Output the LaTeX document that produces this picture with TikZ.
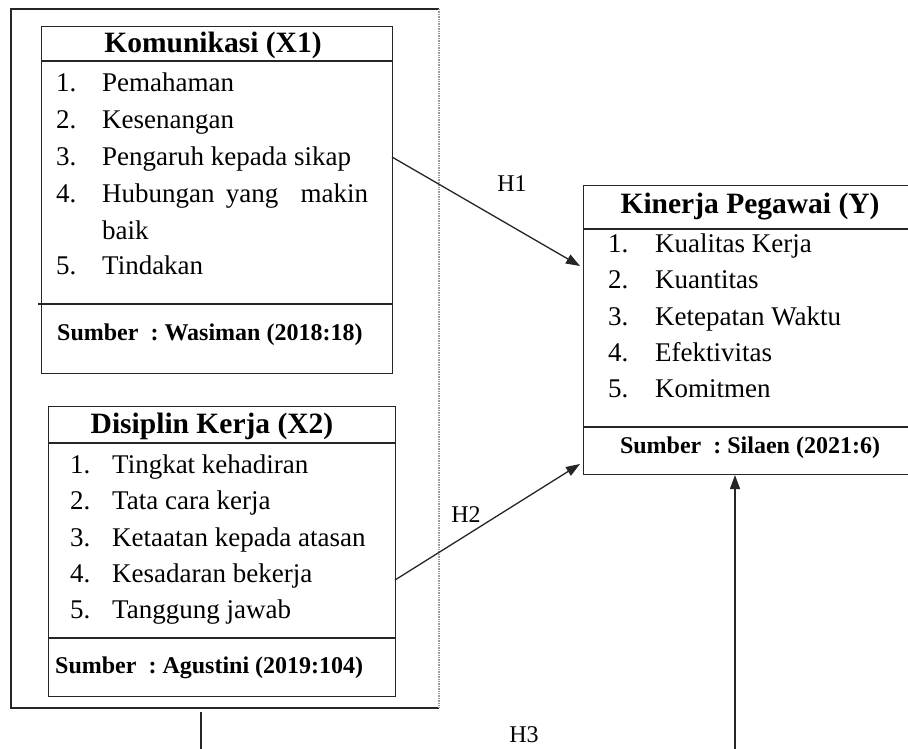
\documentclass[tikz,border=0pt]{standalone}
\usepackage{fontspec}
\setmainfont{Liberation Serif}
\usetikzlibrary{arrows.meta}
\begin{document}
\begin{tikzpicture}[x=1pt,y=-1pt,
  frame/.style={draw=black!85,line width=1.4pt},
  item/.style={anchor=base west,inner sep=0pt,font=\fontsize{27}{30}\selectfont,yshift=-8pt},
  ttl/.style={anchor=center,inner sep=0pt,font=\fontsize{29.5}{32}\selectfont\bfseries},
  src/.style={inner sep=0pt,font=\fontsize{24}{27}\selectfont\bfseries},
  hlab/.style={inner sep=0pt,font=\fontsize{24}{27}\selectfont},
  conn/.style={draw=black!85,line width=1.3pt},
  arr/.style={conn,-{Triangle[length=14pt,width=10pt]}}]
\useasboundingbox (0,0) rectangle (908,749);
\fill[white] (0,0) rectangle (908,749);
% outer frame
\draw[frame] (439,9) -- (11,9) -- (11,708) -- (439,708);
\draw[black!40,line width=1.4pt,densely dotted] (439,9) -- (439,708);
% X1 box
\node[frame,minimum width=351pt,minimum height=347pt,inner sep=0pt,anchor=north west] (x1) at (41,26) {};
\draw[frame] (41,61) -- (392,61);
\draw[frame] (38,304) -- (392,304);
\node[ttl] (x1t) at (213,45) {Komunikasi (X1)};
\node[item] (x1n1) at (56,84) {1.};  \node[item] (x1i1) at (102,84) {Pemahaman};
\node[item] (x1n2) at (56,121) {2.}; \node[item] (x1i2) at (102,121) {Kesenangan};
\node[item] (x1n3) at (56,158) {3.}; \node[item] (x1i3) at (102,158) {Pengaruh kepada sikap};
\node[item] (x1n4) at (56,194) {4.}; \node[item] (x1i4) at (102,194) {\makebox[266pt][s]{Hubungan yang\ \ makin}};
\node[item] (x1i4b) at (102,231) {baik};
\node[item] (x1n5) at (56,266) {5.}; \node[item] (x1i5) at (102,266) {Tindakan};
\node[src,anchor=west] (x1s) at (57,335) {Sumber\ \ :\ Wasiman (2018:18)};
% X2 box
\node[frame,minimum width=347pt,minimum height=290pt,inner sep=0pt,anchor=north west] (x2) at (48,406) {};
\draw[frame] (48,443) -- (395,443);
\draw[frame] (48,638) -- (395,638);
\node[ttl] (x2t) at (212,426) {Disiplin Kerja (X2)};
\node[item] (x2n1) at (70,465) {1.}; \node[item] (x2i1) at (112,465) {Tingkat kehadiran};
\node[item] (x2n2) at (70,501) {2.}; \node[item] (x2i2) at (112,501) {Tata cara kerja};
\node[item] (x2n3) at (70,538) {3.}; \node[item] (x2i3) at (112,538) {Ketaatan kepada atasan};
\node[item] (x2n4) at (70,574) {4.}; \node[item] (x2i4) at (112,574) {Kesadaran bekerja};
\node[item] (x2n5) at (70,610) {5.}; \node[item] (x2i5) at (112,610) {Tanggung jawab};
\node[src,anchor=west] (x2s) at (55,668) {Sumber\ \ :\ Agustini (2019:104)};
% Y box
\node[frame,minimum width=340pt,minimum height=289pt,inner sep=0pt,anchor=north west] (y) at (583,185) {};
\draw[frame] (583,229) -- (923,229);
\draw[frame] (583,427) -- (923,427);
\node[ttl] (yt) at (750,207) {Kinerja Pegawai (Y)};
\node[item] (yn1) at (608,244) {1.}; \node[item] (yi1) at (655,244) {Kualitas Kerja};
\node[item] (yn2) at (608,280) {2.}; \node[item] (yi2) at (655,280) {Kuantitas};
\node[item] (yn3) at (608,317) {3.}; \node[item] (yi3) at (655,317) {Ketepatan Waktu};
\node[item] (yn4) at (608,353) {4.}; \node[item] (yi4) at (655,353) {Efektivitas};
\node[item] (yn5) at (608,389) {5.}; \node[item] (yi5) at (655,389) {Komitmen};
\node[src] (ys) at (750,448) {Sumber\ \ :\ Silaen (2021:6)};
% connectors
\coordinate (h1s) at (392,157);
\coordinate (h1e) at (580,266);
\coordinate (h2s) at (395,580);
\coordinate (h2e) at (580,464);
\coordinate (h3a) at (201,712);
\coordinate (h3b) at (201,760);
\coordinate (h3c) at (735,760);
\coordinate (h3d) at (735,475);
\draw[arr] (h1s) -- (h1e);
\draw[arr] (h2s) -- (h2e);
\draw[conn] (h3a) -- (h3b);
\draw[arr] (h3c) -- (h3d);
\node[hlab] (h1) at (512,184) {H1};
\node[hlab] (h2) at (466,515) {H2};
\node[hlab] (h3) at (524,735) {H3};
\end{tikzpicture}
\end{document}
